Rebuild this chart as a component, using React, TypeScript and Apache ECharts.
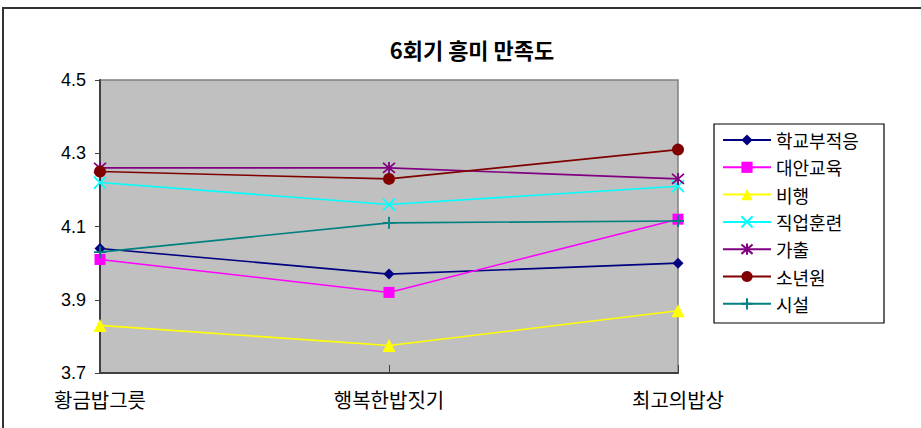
import React, { useEffect, useRef } from "react";
import * as echarts from "echarts";

const categories = ["황금밥그릇", "행복한밥짓기", "최고의밥상"];
const seriesNames = ["학교부적응", "대안교육", "비행", "직업훈련", "가출", "소년원", "시설"];
const school = [4.04, 3.97, 4.0];
const alternative = [4.01, 3.92, 4.12];
const delinquency = [3.83, 3.775, 3.87];
const vocational = [4.22, 4.16, 4.21];
const runaway = [4.26, 4.26, 4.23];
const juvenile = [4.25, 4.23, 4.31];
const facility = [4.03, 4.11, 4.115];
const yTicks = [3.7, 3.9, 4.1, 4.3, 4.5];

const colors = ["#000080", "#FF00FF", "#FFFF00", "#00FFFF", "#800080", "#800000", "#008080"];

const X_PATH = "path://M0,0L10,10M10,0L0,10";
const STAR_PATH = "path://M0,0L10,10M10,0L0,10M5,-1L5,11";
const PLUS_PATH = "path://M5,0L5,10M0,5L10,5";

export default function App() {
  const ref = useRef<HTMLDivElement>(null);
  useEffect(() => {
    if (!ref.current) return;
    const chart = echarts.init(ref.current, null, { renderer: "svg" });
    const font = "'Noto Sans CJK KR', 'Liberation Sans', sans-serif";
    const datas = [school, alternative, delinquency, vocational, runaway, juvenile, facility];
    const symbols: any[] = ["diamond", "rect", "triangle", X_PATH, STAR_PATH, "circle", PLUS_PATH];
    const sizes = [11, 11, 13, 12, 12, 12, 12];
    const stroked = [false, false, false, true, true, false, true];
    const series = seriesNames.map((name, i) => ({
      name,
      type: "line",
      data: datas[i],
      symbol: symbols[i],
      symbolSize: sizes[i],
      showSymbol: true,
      lineStyle: { color: colors[i], width: 1.6 },
      itemStyle: stroked[i]
        ? { color: "rgba(0,0,0,0)", borderColor: colors[i], borderWidth: 1.8 }
        : { color: colors[i], borderColor: colors[i], borderWidth: 0 },
      emphasis: { disabled: true },
    }));
    chart.setOption({
      animation: false,
      textStyle: { fontFamily: font },
      title: {
        text: "6회기 흥미 만족도",
        left: 467,
        textAlign: "center",
        top: 33,
        textStyle: { fontFamily: font, fontSize: 22, fontWeight: "bold", color: "#000" },
      },
      graphic: [
        {
          type: "rect",
          shape: { x: 3, y: 8, width: 940, height: 440 },
          style: { fill: "none", stroke: "#333", lineWidth: 2 },
          silent: true,
        },
        {
          type: "rect",
          shape: { x: 714, y: 124, width: 170, height: 199 },
          style: { fill: "#fff", stroke: "#000", lineWidth: 1.2 },
          silent: true,
          z: -1,
        },
      ],
      legend: {
        orient: "vertical",
        left: 722,
        top: 131,
        itemWidth: 48,
        itemHeight: 14,
        itemGap: 9.3,
        padding: 0,
        data: seriesNames,
        textStyle: { fontFamily: font, fontSize: 18, lineHeight: 18, color: "#000" },
      },
      grid: {
        left: 100,
        right: 243,
        top: 80,
        bottom: 55,
        show: true,
        backgroundColor: "#C0C0C0",
        borderColor: "#808080",
        borderWidth: 1.5,
      },
      xAxis: {
        type: "category",
        data: categories,
        boundaryGap: false,
        axisLine: { lineStyle: { color: "#404040", width: 2 } },
        axisTick: { show: true, inside: true, length: 8, lineStyle: { color: "#404040" } },
        axisLabel: { fontFamily: font, fontSize: 20, color: "#000", margin: 16 },
        splitLine: { show: false },
      },
      yAxis: {
        type: "value",
        min: 3.7,
        max: 4.5,
        interval: 0.2,
        axisLine: { show: true, lineStyle: { color: "#404040", width: 2 } },
        axisTick: { show: true, length: 5, lineStyle: { color: "#404040" } },
        axisLabel: {
          fontFamily: "'Liberation Sans', sans-serif",
          fontSize: 18,
          color: "#000",
          margin: 14,
          formatter: (v: number) => {
            const r = Math.round(v * 10) / 10;
            return yTicks.some((t) => Math.abs(t - r) < 1e-6) ? r.toFixed(1) : "";
          },
        },
        splitLine: { show: false },
      },
      series,
    });
    return () => chart.dispose();
  }, []);
  return (
    <div
      ref={ref}
      style={{ position: "absolute", left: 0, top: 0, width: 921, height: 428, background: "#fff" }}
    />
  );
}
